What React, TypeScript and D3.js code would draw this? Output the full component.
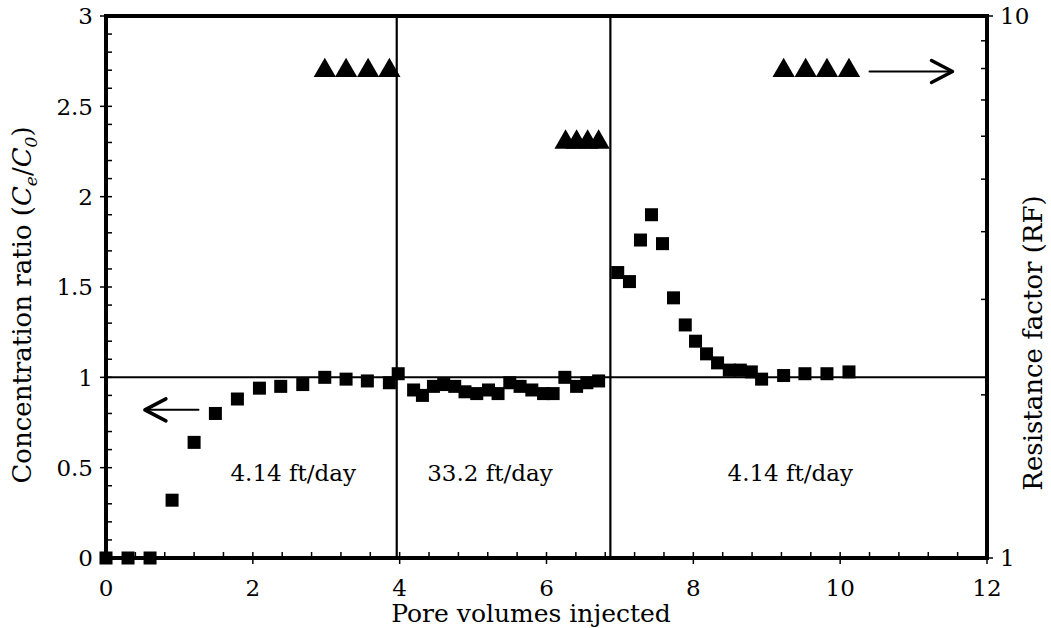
import React from 'react'
import * as d3 from 'd3'

// concentration ratio series (left axis)
const poreVolumes = [0, 0.3, 0.6, 0.9, 1.2, 1.49, 1.79, 2.09, 2.38, 2.68, 2.98, 3.27, 3.56, 3.86, 3.98,
  4.19, 4.31, 4.46, 4.6, 4.75, 4.89, 5.05, 5.21, 5.34, 5.5, 5.64, 5.8, 5.96, 6.09, 6.25, 6.41, 6.55, 6.71,
  6.97, 7.13, 7.28, 7.43, 7.58, 7.73, 7.89, 8.03, 8.18, 8.33, 8.49, 8.64, 8.79, 8.93, 9.23, 9.52, 9.82, 10.12]
const concRatio = [0, 0, 0, 0.32, 0.64, 0.8, 0.88, 0.94, 0.95, 0.96, 1.0, 0.99, 0.98, 0.97, 1.02,
  0.93, 0.9, 0.95, 0.96, 0.95, 0.92, 0.91, 0.93, 0.91, 0.97, 0.95, 0.93, 0.91, 0.91, 1.0, 0.95, 0.97, 0.98,
  1.58, 1.53, 1.76, 1.9, 1.74, 1.44, 1.29, 1.2, 1.13, 1.08, 1.04, 1.04, 1.03, 0.99, 1.01, 1.02, 1.02, 1.03]

// resistance factor series (right axis, log)
const rfPoreVolumes = [2.98, 3.27, 3.57, 3.86, 6.26, 6.41, 6.56, 6.71, 9.23, 9.53, 9.82, 10.12]
const rfValues = [8.0, 8.0, 8.0, 8.0, 5.9, 5.9, 5.9, 5.9, 8.0, 8.0, 8.0, 8.0]

const xTicks = [0, 2, 4, 6, 8, 10, 12]
const yTicks = [0, 0.5, 1, 1.5, 2, 2.5, 3]
const rfTicks = [1, 10]
const rfMinor = [2, 3, 4, 5, 6, 7, 8, 9]

const dividers = [3.96, 6.87]
const velocityText = ['4.14 ft/day', '33.2 ft/day', '4.14 ft/day']
const velocityAt = [2.55, 5.23, 9.32]

const W = 1051
const H = 628
const FONT = '"DejaVu Serif", serif'

export default function App() {
  const x = d3.scaleLinear().domain([0, 12]).range([106, 987])
  const y = d3.scaleLinear().domain([0, 3]).range([558, 16])
  const yR = d3.scaleLog().domain([1, 10]).range([558, 16])

  const xMinor = d3.range(0, 12.01, 0.4)
  const yMinor = d3.range(0, 3.01, 0.1)

  const tri = d3.symbol().type(d3.symbolTriangle).size(215)

  const arrowHead = (tx: number, ty: number, dir: number) =>
    `M${tx - dir * 21},${ty - 11}L${tx},${ty}L${tx - dir * 21},${ty + 11}`

  const leftArrow = { y: y(0.82), x1: x(1.26), x2: x(0.53) }
  const rightArrow = { y: yR(7.9), x1: x(10.4), x2: x(11.53) }

  return (
    <svg width={W} height={H} style={{ position: 'absolute', left: 0, top: 0, background: '#fff' }}
      fontFamily={FONT}>
      {/* reference lines */}
      <line x1={x(0)} x2={x(12)} y1={y(1)} y2={y(1)} stroke="#000" strokeWidth={2} />
      {dividers.map((d, i) => (
        <line key={i} x1={x(d)} x2={x(d)} y1={y(3)} y2={y(0)} stroke="#000" strokeWidth={2.2} />
      ))}

      {velocityText.map((t, i) => (
        <text key={i} x={x(velocityAt[i])} y={481} textAnchor="middle" fontSize={23}>{t}</text>
      ))}

      {/* ticks */}
      {yMinor.map((v, i) => (
        <line key={'ym' + i} x1={x(0)} x2={x(0) + 6} y1={y(v)} y2={y(v)} stroke="#000" strokeWidth={1.5} />
      ))}
      {yTicks.map((v, i) => (
        <line key={'yM' + i} x1={x(0) - 6} x2={x(0)} y1={y(v)} y2={y(v)} stroke="#000" strokeWidth={1.5} />
      ))}
      {xMinor.map((v, i) => (
        <line key={'xm' + i} x1={x(v)} x2={x(v)} y1={y(0)} y2={y(0) - 6} stroke="#000" strokeWidth={1.5} />
      ))}
      {xTicks.map((v, i) => (
        <line key={'xM' + i} x1={x(v)} x2={x(v)} y1={y(0)} y2={y(0) + 6} stroke="#000" strokeWidth={1.5} />
      ))}
      {rfMinor.map((v, i) => (
        <line key={'rm' + i} x1={x(12) - 6} x2={x(12)} y1={yR(v)} y2={yR(v)} stroke="#000" strokeWidth={1.5} />
      ))}
      {rfTicks.map((v, i) => (
        <line key={'rM' + i} x1={x(12)} x2={x(12) + 6} y1={yR(v)} y2={yR(v)} stroke="#000" strokeWidth={1.5} />
      ))}

      {/* frame */}
      <rect x={x(0)} y={y(3)} width={x(12) - x(0)} height={y(0) - y(3)} fill="none" stroke="#000" strokeWidth={4} />

      {/* tick labels */}
      {yTicks.map((v, i) => (
        <text key={'yl' + i} x={x(0) - 13} y={y(v)} dy="0.36em" textAnchor="end" fontSize={23}>{v}</text>
      ))}
      {xTicks.map((v, i) => (
        <text key={'xl' + i} x={x(v)} y={596} textAnchor="middle" fontSize={23}>{v}</text>
      ))}
      {rfTicks.map((v, i) => (
        <text key={'rl' + i} x={x(12) + 13} y={yR(v)} dy="0.36em" textAnchor="start" fontSize={23}>{v}</text>
      ))}

      {/* axis titles */}
      <text x={531} y={622} textAnchor="middle" fontSize={25}>Pore volumes injected</text>
      <text transform={`translate(31,305) rotate(-90)`} textAnchor="middle" fontSize={26}>
        Concentration ratio (<tspan fontStyle="italic">C</tspan>
        <tspan fontStyle="italic" fontSize={17} dy={6}>e</tspan>
        <tspan dy={-6}>/</tspan>
        <tspan fontStyle="italic">C</tspan>
        <tspan fontStyle="italic" fontSize={17} dy={6}>0</tspan>
        <tspan dy={-6}>)</tspan>
      </text>
      <text transform={`translate(1042,343) rotate(-90)`} textAnchor="middle" fontSize={26}>
        Resistance factor (RF)
      </text>

      {/* arrows */}
      <g stroke="#000" fill="none" strokeLinecap="round" strokeLinejoin="round">
        <line x1={leftArrow.x1} x2={leftArrow.x2} y1={leftArrow.y} y2={leftArrow.y} strokeWidth={2} />
        <path d={arrowHead(leftArrow.x2, leftArrow.y, -1)} strokeWidth={3.5} />
        <line x1={rightArrow.x1} x2={rightArrow.x2} y1={rightArrow.y} y2={rightArrow.y} strokeWidth={2} />
        <path d={arrowHead(rightArrow.x2, rightArrow.y, 1)} strokeWidth={3.5} />
      </g>

      {/* markers */}
      {poreVolumes.map((p, i) => (
        <rect key={'s' + i} x={x(p) - 6.5} y={y(concRatio[i]) - 6.5} width={13} height={13} fill="#000" />
      ))}
      {rfPoreVolumes.map((p, i) => (
        <path key={'t' + i} d={tri() as string} transform={`translate(${x(p)},${yR(rfValues[i]) + 2})`} fill="#000" />
      ))}
    </svg>
  )
}
